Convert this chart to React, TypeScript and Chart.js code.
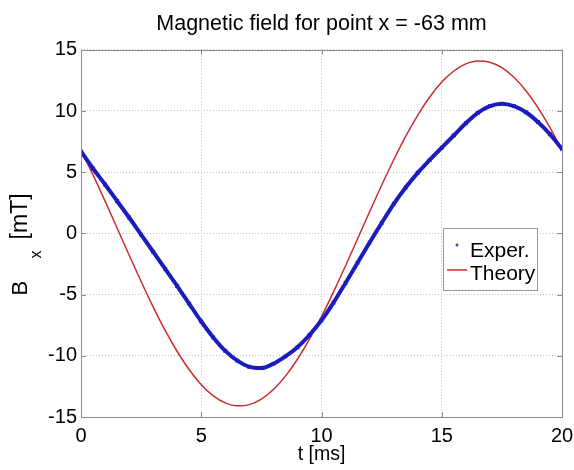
import React, { useEffect, useRef } from "react";
import { Chart, registerables } from "chart.js";

Chart.register(...registerables);

// time axis [ms]
const timeMs = [
  0, 0.5, 1, 1.5, 2, 2.5, 3, 3.5, 4, 4.5, 5, 5.5, 6, 6.5, 7, 7.5, 8, 8.5, 9, 9.5,
  10, 10.5, 11, 11.5, 12, 12.5, 13, 13.5, 14, 14.5, 15, 15.5, 16, 16.5, 17, 17.5,
  18, 18.5, 19, 19.5, 20,
];

// measured Bx [mT]
const experValues = [
  6.7, 5.3, 4.0, 2.65, 1.3, -0.1, -1.5, -2.9, -4.3, -5.75, -7.2, -8.5, -9.6, -10.4,
  -10.9, -11.0, -10.65, -10.05, -9.3, -8.3, -7.1, -5.65, -4.05, -2.4, -0.75, 0.85, 2.4,
  3.75, 4.95, 6.0, 7.0, 8.0, 9.0, 9.85, 10.4, 10.6, 10.4, 9.9, 9.1, 8.1, 6.9,
];

// theoretical Bx [mT]
const theoryValues = [
  6.79, 4.78, 2.64, 0.44, -1.77, -3.93, -6.0, -7.93, -9.65, -11.14, -12.36, -13.27,
  -13.85, -14.09, -13.99, -13.54, -12.76, -11.66, -10.28, -8.64, -6.79, -4.78,
  -2.64, -0.44, 1.77, 3.93, 6.0, 7.93, 9.65, 11.14, 12.36, 13.27, 13.85, 14.09,
  13.99, 13.54, 12.76, 11.66, 10.28, 8.64, 6.79,
];

const xTicks = [0, 5, 10, 15, 20];
const yTicks = [-15, -10, -5, 0, 5, 10, 15];

const titleText = "Magnetic field for point x = -63 mm";
const xTitle = "t [ms]";
const legendLabels = ["Exper.", "Theory"];

const BLUE = "rgb(28,28,190)";
const RED = "rgb(200,45,45)";
const SANS = "'Liberation Sans', Arial, sans-serif";

const decorPlugin = {
  id: "decor",
  afterDatasetsDraw(chart: any) {
    const { ctx, chartArea: a, scales } = chart;
    ctx.save();
    // frame
    ctx.strokeStyle = "#8a8a8a";
    ctx.lineWidth = 1;
    ctx.setLineDash([]);
    ctx.strokeRect(Math.round(a.left) + 0.5, Math.round(a.top) + 0.5, Math.round(a.right - a.left), Math.round(a.bottom - a.top));
    // inward ticks
    const tl = 5;
    ctx.beginPath();
    xTicks.forEach((v) => {
      const px = Math.round(scales.x.getPixelForValue(v)) + 0.5;
      ctx.moveTo(px, a.bottom);
      ctx.lineTo(px, a.bottom - tl);
      ctx.moveTo(px, a.top);
      ctx.lineTo(px, a.top + tl);
    });
    yTicks.forEach((v) => {
      const py = Math.round(scales.y.getPixelForValue(v)) + 0.5;
      ctx.moveTo(a.left, py);
      ctx.lineTo(a.left + tl, py);
      ctx.moveTo(a.right, py);
      ctx.lineTo(a.right - tl, py);
    });
    ctx.stroke();

    // legend box
    const bx = Math.round(a.right - 119);
    const by = Math.round(scales.y.getPixelForValue(0) - 5);
    const bw = 94;
    const bh = 62;
    ctx.fillStyle = "#fff";
    ctx.fillRect(bx, by, bw, bh);
    ctx.strokeStyle = "#999";
    ctx.strokeRect(bx + 0.5, by + 0.5, bw, bh);
    ctx.font = "21px " + SANS;
    ctx.fillStyle = "#000";
    ctx.textBaseline = "alphabetic";
    ctx.textAlign = "left";
    // row 1: marker
    ctx.strokeStyle = BLUE;
    ctx.lineWidth = 1.2;
    const mx = bx + 14;
    const my = by + 17;
    ctx.beginPath();
    ctx.moveTo(mx - 1.5, my);
    ctx.lineTo(mx + 1.5, my);
    ctx.moveTo(mx, my - 1.5);
    ctx.lineTo(mx, my + 1.5);
    ctx.stroke();
    ctx.fillText(legendLabels[0], bx + 27, by + 29);
    // row 2: line
    ctx.strokeStyle = RED;
    ctx.lineWidth = 1.5;
    ctx.beginPath();
    ctx.moveTo(bx + 4, by + 42);
    ctx.lineTo(bx + 24, by + 42);
    ctx.stroke();
    ctx.fillText(legendLabels[1], bx + 27, by + 52);

    // y axis title with subscript
    const cy = (a.top + a.bottom) / 2;
    ctx.translate(27, cy + 62);
    ctx.rotate(-Math.PI / 2);
    ctx.fillStyle = "#000";
    ctx.font = "22px " + SANS;
    ctx.fillText("B", 0, 0);
    ctx.font = "16px " + SANS;
    ctx.fillText("x", 37, 14);
    ctx.font = "23px " + SANS;
    ctx.fillText("[mT]", 56, 0);
    ctx.restore();
  },
};

export default function App() {
  const ref = useRef<HTMLCanvasElement>(null);
  useEffect(() => {
    document.body.style.margin = "0";
    const canvas = ref.current!;
    const chart = new Chart(canvas, {
      type: "line",
      data: {
        datasets: [
          {
            label: legendLabels[0],
            data: timeMs.map((t, i) => ({ x: t, y: experValues[i] })),
            borderColor: BLUE,
            backgroundColor: BLUE,
            borderWidth: 4,
            cubicInterpolationMode: "monotone",
            pointStyle: "crossRot",
            pointRadius: 2.5,
            pointBorderWidth: 1.2,
            pointBorderColor: BLUE,
          },
          {
            label: legendLabels[1],
            data: timeMs.map((t, i) => ({ x: t, y: theoryValues[i] })),
            borderColor: RED,
            borderWidth: 1.5,
            cubicInterpolationMode: "monotone",
            pointRadius: 0,
          },
        ],
      },
      options: {
        animation: false,
        responsive: false,
        devicePixelRatio: 1,
        layout: { padding: 0 },
        plugins: {
          legend: { display: false },
          tooltip: { enabled: false },
          title: {
            display: true,
            fullSize: false,
            text: titleText,
            color: "#000",
            font: { family: SANS, size: 21.5, weight: "normal" },
            padding: { top: 11, bottom: 13 },
          },
        },
        scales: {
          x: {
            type: "linear",
            min: 0,
            max: 20,
            afterBuildTicks: (s: any) => {
              s.ticks = xTicks.map((v) => ({ value: v }));
            },
            afterFit: (s: any) => {
              s.height = 53;
              s.paddingLeft = 0;
              s.paddingRight = 12;
            },
            grid: { color: "#c4c4c4", drawTicks: false, lineWidth: 1 },
            border: { display: false, dash: [1, 2] },
            ticks: {
              color: "#000",
              padding: 7,
              maxRotation: 0,
              font: { family: SANS, size: 20 },
            },
            title: {
              display: true,
              text: xTitle,
              color: "#000",
              font: { family: SANS, size: 19.5 },
              padding: { top: 0, bottom: 4 },
            },
          },
          y: {
            type: "linear",
            min: -15,
            max: 15,
            afterBuildTicks: (s: any) => {
              s.ticks = yTicks.map((v) => ({ value: v }));
            },
            afterFit: (s: any) => {
              s.width = 81;
            },
            grid: { color: "#c4c4c4", drawTicks: false, lineWidth: 1 },
            border: { display: false, dash: [1, 2] },
            ticks: {
              color: "#000",
              padding: 4,
              font: { family: SANS, size: 20 },
            },
          },
        },
      },
      plugins: [decorPlugin],
    } as any);
    return () => chart.destroy();
  }, []);
  return <canvas ref={ref} width={574} height={470} style={{ display: "block" }} />;
}
